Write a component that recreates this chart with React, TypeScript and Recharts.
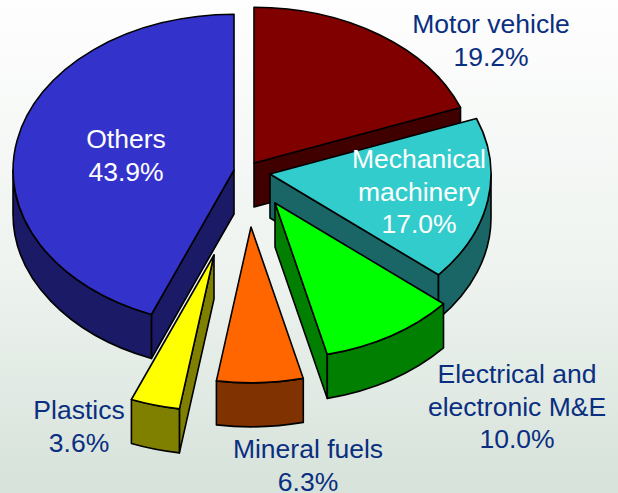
import { PieChart, Pie } from "recharts";

const categories = [
  "Motor vehicle",
  "Mechanical machinery",
  "Electrical and electronic M&E",
  "Mineral fuels",
  "Plastics",
  "Others",
];
const shares = [19.2, 17.0, 10.0, 6.3, 3.6, 43.9];

const data = categories.map((name, i) => ({ name, value: shares[i] }));

// look of each slice, same order as categories
const topColors = ["#800000", "#33CCCC", "#00FF00", "#FF6600", "#FFFF00", "#3333CC"];
const wallColors = ["#400000", "#1A6666", "#007F00", "#803300", "#808000", "#1A1A66"];
const explode = [
  [4, -17],
  [20, -6],
  [25, 23],
  [1, 47],
  [-36, 75],
  [-16, -10],
];
const labelLines = [
  ["Motor vehicle", "19.2%"],
  ["Mechanical", "machinery", "17.0%"],
  ["Electrical and", "electronic M&E", "10.0%"],
  ["Mineral fuels", "6.3%"],
  ["Plastics", "3.6%"],
  ["Others", "43.9%"],
];
const labelPos = [
  [491, 33],
  [419, 168],
  [517, 383],
  [308, 458],
  [79, 419],
  [126, 148],
];
const labelColors = ["#0A2F80", "#FFFFFF", "#0A2F80", "#0A2F80", "#0A2F80", "#FFFFFF"];

const SQUASH = 0.705;
const DEPTH = 44;

const Slice3D = (props: any) => {
  const { cx, cy, outerRadius, startAngle, endAngle, index } = props;
  const rx = outerRadius;
  const ry = outerRadius * SQUASH;
  const ax = cx + explode[index][0];
  const ay = cy + explode[index][1];
  const t0 = 90 - startAngle;
  const t1 = 90 - endAngle;
  const pt = (t: number, d = 0) => {
    const r = (t * Math.PI) / 180;
    return [ax + rx * Math.sin(r), ay - ry * Math.cos(r) + d];
  };
  const fmt = (p: number[]) => `${p[0].toFixed(1)} ${p[1].toFixed(1)}`;
  const arc = (to: number[], large: boolean, sweep: number) =>
    `A ${rx} ${ry} 0 ${large ? 1 : 0} ${sweep} ${fmt(to)}`;
  const outline = { stroke: "#000", strokeWidth: 1.6, strokeLinejoin: "round" as const };

  const face = (t: number) =>
    `M ${ax} ${ay} L ${fmt(pt(t))} L ${fmt(pt(t, DEPTH))} L ${ax} ${ay + DEPTH} Z`;

  const wa = Math.max(t0, 90);
  const wb = Math.min(t1, 270);

  return (
    <g>
      {Math.sin((t0 * Math.PI) / 180) < -0.01 && (
        <path d={face(t0)} fill={wallColors[index]} {...outline} />
      )}
      {Math.sin((t1 * Math.PI) / 180) > 0.01 && (
        <path d={face(t1)} fill={wallColors[index]} {...outline} />
      )}
      {wb > wa && (
        <path
          d={`M ${fmt(pt(wa))} ${arc(pt(wb), wb - wa > 180, 1)} L ${fmt(pt(wb, DEPTH))} ${arc(
            pt(wa, DEPTH),
            wb - wa > 180,
            0
          )} Z`}
          fill={wallColors[index]}
          {...outline}
        />
      )}
      <path
        d={`M ${ax} ${ay} L ${fmt(pt(t0))} ${arc(pt(t1), t1 - t0 > 180, 1)} Z`}
        fill={topColors[index]}
        {...outline}
      />
    </g>
  );
};

const SliceLabel = (props: any) => {
  const { index } = props;
  const [x, y] = labelPos[index];
  return (
    <text
      x={x}
      y={y}
      textAnchor="middle"
      fontFamily="'Liberation Sans', Arial, sans-serif"
      fontSize={26.5}
      fill={labelColors[index]}
    >
      {labelLines[index].map((line, i) => (
        <tspan key={line} x={x} y={y + i * 32.5}>
          {line}
        </tspan>
      ))}
    </text>
  );
};

export default function App() {
  return (
    <div
      style={{
        position: "absolute",
        left: 0,
        top: 0,
        width: 618,
        height: 493,
        background: "linear-gradient(180deg, #FEFEFE 0%, #EEF3EF 55%, #D6E2DA 100%)",
      }}
    >
      <PieChart width={618} height={493} margin={{ top: 0, right: 0, bottom: 0, left: 0 }}>
        <Pie
          data={data}
          dataKey="value"
          nameKey="name"
          cx={250}
          cy={180}
          innerRadius={0}
          outerRadius={221}
          startAngle={90}
          endAngle={-270}
          paddingAngle={0}
          shape={Slice3D}
          label={SliceLabel}
          labelLine={false}
          isAnimationActive={false}
        />
      </PieChart>
    </div>
  );
}
